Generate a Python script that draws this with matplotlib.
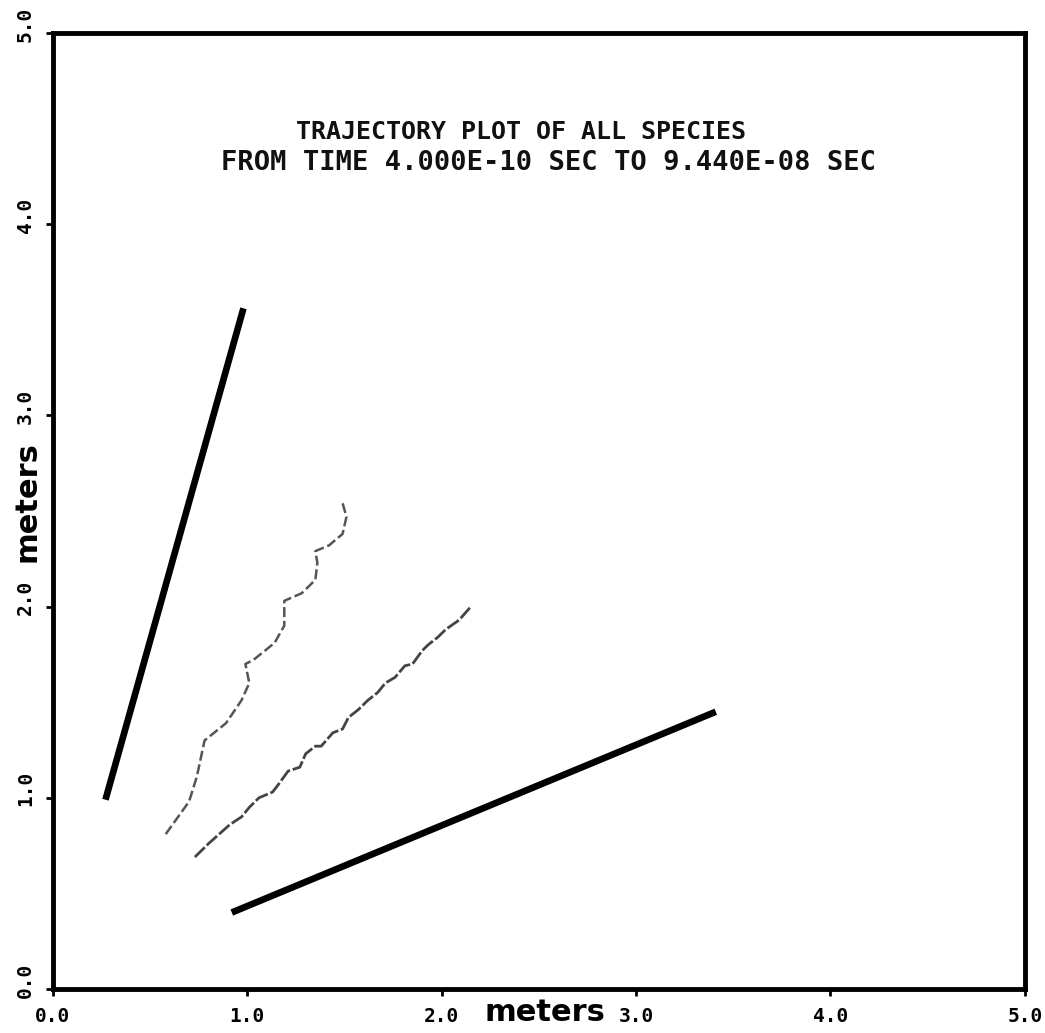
import matplotlib
matplotlib.use('Agg')
import matplotlib.pyplot as plt
import matplotlib.transforms as mtrans

# trajectory data (meters)
fast1_x = [0.27, 0.98]
fast1_y = [0.99, 3.56]

fast2_x = [0.92, 3.41]
fast2_y = [0.40, 1.45]

specA_x = [0.58, 0.70, 0.74, 0.78, 0.89, 0.97, 1.01, 0.99, 1.03, 1.14, 1.19, 1.19,
           1.19, 1.28, 1.35, 1.36, 1.35, 1.42, 1.49, 1.51, 1.49]
specA_y = [0.81, 0.98, 1.11, 1.30, 1.39, 1.51, 1.60, 1.70, 1.72, 1.81, 1.90, 1.96,
           2.03, 2.07, 2.14, 2.23, 2.29, 2.32, 2.38, 2.47, 2.54]

specB_x = [0.73, 0.80, 0.91, 0.97, 1.01, 1.06, 1.13, 1.16, 1.21, 1.27, 1.30, 1.35,
           1.38, 1.44, 1.49, 1.52, 1.57, 1.62, 1.67, 1.71, 1.76, 1.81, 1.85, 1.90,
           1.93, 1.98, 2.02, 2.09, 2.15]
specB_y = [0.69, 0.76, 0.86, 0.90, 0.95, 1.00, 1.03, 1.07, 1.14, 1.16, 1.23, 1.27,
           1.27, 1.34, 1.36, 1.42, 1.46, 1.51, 1.55, 1.60, 1.63, 1.69, 1.70, 1.77,
           1.80, 1.84, 1.88, 1.93, 2.00]

ticks = [0.0, 1.0, 2.0, 3.0, 4.0, 5.0]
tick_labels = ['0.0', '1.0', '2.0', '3.0', '4.0', '5.0']

title1 = 'TRAJECTORY PLOT OF ALL SPECIES'
title2 = 'FROM TIME 4.000E-10 SEC TO 9.440E-08 SEC'

fig = plt.figure(figsize=(10.45, 10.33), dpi=100)
ax = fig.add_axes([0.0507, 0.0426, 0.930, 0.9255])

ax.plot(fast1_x, fast1_y, color='black', lw=4.8, solid_capstyle='butt')
ax.plot(fast2_x, fast2_y, color='black', lw=4.8, solid_capstyle='butt')
ax.plot(specA_x, specA_y, color='#555555', lw=1.8, dashes=(4, 1.5))
ax.plot(specB_x, specB_y, color='#444444', lw=2.0, dashes=(5, 1))

ax.set_xlim(0, 5)
ax.set_ylim(0, 5)
ax.set_xticks(ticks)
ax.set_yticks(ticks)
ax.set_xticklabels(tick_labels, fontsize=14, fontweight='bold', family='DejaVu Sans Mono')
ax.set_yticklabels(tick_labels, fontsize=14, fontweight='bold', family='DejaVu Sans Mono',
                   rotation=90, va='center')
ax.tick_params(direction='out', length=5, width=2, pad=8)

# y tick labels sit a little above their ticks in the original
shift = mtrans.ScaledTranslation(0, 0.09, fig.dpi_scale_trans)
for lab in ax.get_yticklabels():
    lab.set_transform(lab.get_transform() + shift)

for s in ax.spines.values():
    s.set_linewidth(3.5)

ax.set_xlabel('meters', fontsize=22, fontweight='bold')
ax.xaxis.set_label_coords(0.506, -0.025)
ax.xaxis.label.set_va('center')
ax.set_ylabel('meters', fontsize=22, fontweight='bold')
ax.yaxis.set_label_coords(-0.027, 0.51)
ax.yaxis.label.set_va('center')

ax.text(2.41, 4.48, title1, ha='center', va='center', fontsize=18, fontweight='bold',
        family='DejaVu Sans Mono', color='#111111')
ax.text(2.55, 4.32, title2, ha='center', va='center', fontsize=19.5, fontweight='bold',
        family='DejaVu Sans Mono', color='#111111')

fig.savefig('out.png', dpi=100)
